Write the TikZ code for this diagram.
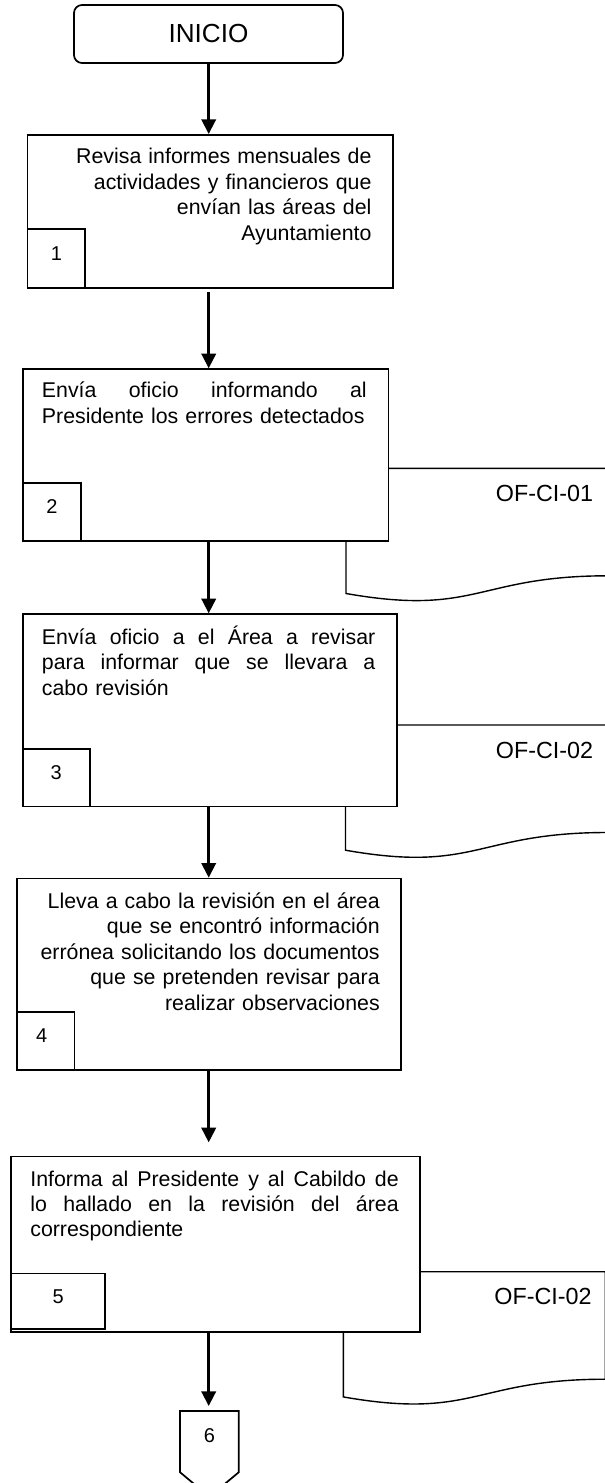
\documentclass[tikz,border=0pt]{standalone}
\usepackage{fontspec}
\setmainfont{Liberation Sans}
\usetikzlibrary{arrows.meta,calc}
\begin{document}
\begin{tikzpicture}[x=0.75pt,y=-0.75pt,
  boxst/.style={draw, line width=1.3pt, fill=white, inner sep=0pt, anchor=north west},
  flow/.style={line width=2pt, -{Triangle[length=11pt,width=10.75pt]}},
  docst/.style={line width=1.05pt},
  bodytext/.style={inner sep=0pt, font=\fontsize{16}{19.1}\selectfont},
  codetext/.style={inner sep=0pt, anchor=base, font=\fontsize{17.5}{21}\selectfont},
  numtext/.style={font=\fontsize{15}{18}\selectfont}
]
\useasboundingbox (0,0) rectangle (605,1483);
\clip (0,0) rectangle (605,1483);

% document shapes (behind the boxes)
\draw[docst, shift={(346,468.3)}] (0,0) -- (262,0) -- (262,107.5) .. controls (131,107.5) and (131,148.3) .. (0,125.2) -- cycle;
\draw[docst, shift={(345.5,725)}] (0,0) -- (262,0) -- (262,107.5) .. controls (131,107.5) and (131,148.3) .. (0,125.2) -- cycle;
\draw[docst, shift={(343.3,1271.7)}] (0,0) -- (262,0) -- (262,107.5) .. controls (131,107.5) and (131,148.3) .. (0,125.2) -- cycle;
\node[codetext] (d1) at (544.5,501.7) {OF-CI-01};
\node[codetext] (d2) at (544.5,758.3) {OF-CI-02};
\node[codetext] (d3) at (543,1304) {OF-CI-02};

% start
\node[draw, line width=1.3pt, rounded corners=6pt, inner sep=0pt, minimum width=201.75pt, minimum height=43.5pt, font=\fontsize{19.6}{23}\selectfont] (ini) at (208.5,34) {INICIO};

% process boxes
\node[boxst, minimum width=274pt, minimum height=114.75pt] (b1) at (26.7,134) {};
\node[boxst, minimum width=274.05pt, minimum height=128.8pt] (b2) at (22.3,368.3) {};
\node[boxst, minimum width=280.5pt, minimum height=144.3pt] (b3) at (22,613.3) {};
\node[boxst, minimum width=288.15pt, minimum height=143.7pt] (b4) at (16.2,877.7) {};
\node[boxst, minimum width=306.75pt, minimum height=131.5pt] (b5) at (10.4,1155.7) {};

% number boxes
\node[boxst, minimum width=43.2pt, minimum height=44.25pt, label={[numtext,yshift=3.75pt]center:1}] (n1) at (26.7,228) {};
\node[boxst, minimum width=43.3pt, minimum height=43.5pt, label={[numtext,yshift=3.75pt]center:2}] (n2) at (22.3,482) {};
\node[boxst, minimum width=50.1pt, minimum height=43.3pt, label={[numtext,yshift=3.75pt]center:3}] (n3) at (22,748) {};
\node[boxst, minimum width=43.1pt, minimum height=43.7pt, label={[numtext,yshift=3.75pt,xshift=-3pt]center:4}] (n4) at (16.2,1011) {};
\node[boxst, minimum width=70.35pt, minimum height=41.7pt, label={[numtext,yshift=3.75pt]center:5}] (n5) at (10.4,1272.7) {};

% texts
\node[bodytext, text width=300pt, align=right, anchor=base east] (t1) at (371.7,164)
  {Revisa informes mensuales de\\actividades y financieros que\\envían las áreas del\\Ayuntamiento};
\node[bodytext, text width=243.6pt, align=left, anchor=base west] (t2) at (41.7,397.7)
  {Envía\hfill oficio\hfill informando\hfill al\\Presidente los errores detectados};
\node[bodytext, text width=250pt, align=left, anchor=base west] (t3) at (41.7,644.3)
  {Envía\hfill oficio\hfill a\hfill el\hfill Área\hfill a\hfill revisar\\para\hfill informar\hfill que\hfill se\hfill llevara\hfill a\\cabo revisión};
\node[bodytext, text width=300pt, align=right, anchor=base east] (t4) at (380,908.3)
  {Lleva a cabo la revisión en el área\\que se encontró información\\errónea solicitando los documentos\\que se pretenden revisar para\\realizar observaciones};
\node[bodytext, text width=276.3pt, align=left, anchor=base west] (t5) at (30.1,1186)
  {Informa\hfill al\hfill Presidente\hfill y\hfill al\hfill Cabildo\hfill de\\lo\hfill hallado\hfill en\hfill la\hfill revisión\hfill del\hfill área\\correspondiente};

% off-page connector
\node[inner sep=0pt, minimum width=43.7pt, minimum height=45.5pt, anchor=north west, label={[numtext,yshift=4.5pt]center:6}] (p6) at (180,1411) {};
\draw[line width=1.3pt] (p6.north west) -- (p6.north east) -- (p6.south east) -- ($(p6.south)+(0,24.5)$) -- (p6.south west) -- cycle;

% connectors
\coordinate (ax) at (208.7,0);
\draw[flow] (ini.south -| ax) -- (b1.north -| ax);
\draw[flow, shorten <=2.8pt] (b1.south -| ax) -- (b2.north -| ax);
\draw[flow] (b2.south -| ax) -- (b3.north -| ax);
\draw[flow] (b3.south -| ax) -- (b4.north -| ax);
\draw[flow, shorten >=10pt] (b4.south -| ax) -- (b5.north -| ax);
\draw[flow, shorten >=3.75pt] (b5.south -| ax) -- (p6.north -| ax);
\end{tikzpicture}
\end{document}
